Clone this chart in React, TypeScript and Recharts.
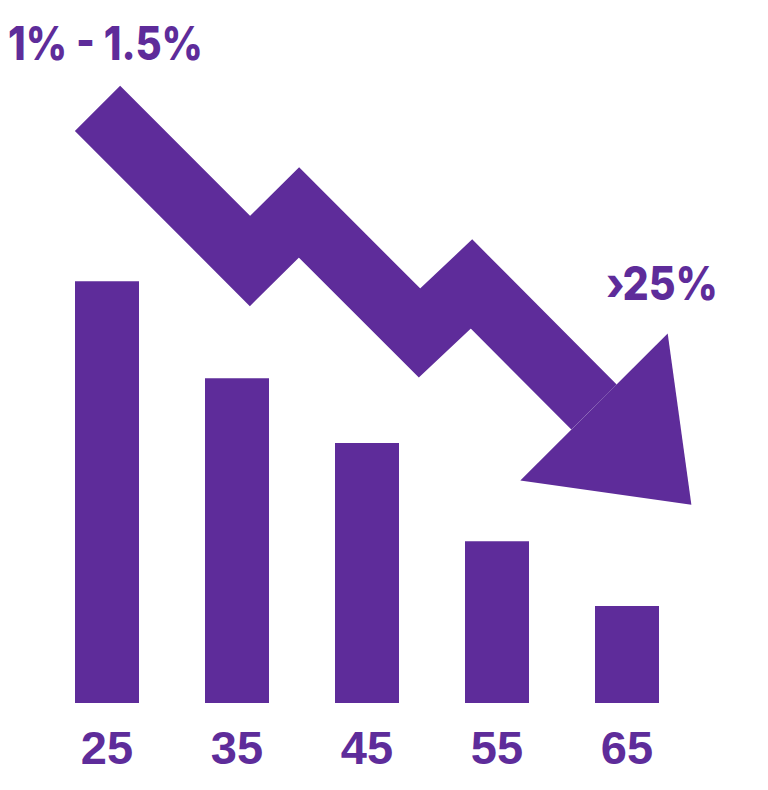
import React from "react";
import { ComposedChart, Bar, Line, XAxis, YAxis, Customized } from "recharts";

const ages = ["25", "35", "45", "55", "65"];
const barValues = [60, 46.2, 37, 23, 13.8];
const startLabel = "1% - 1.5%";
const endLabel = "\u203A25%";

// arrow path (arrow-axis units)
const arrowX = [55.5, 208, 257, 377.5, 429.5, 552];
const arrowY = [108.3, 261, 212.5, 333, 284, 407];

const PURPLE = "#5E2C9A";

const barData = ages.map((a, i) => ({ age: a, value: barValues[i] }));
const arrowData = arrowX.map((x, i) => ({ ax: x, ay: arrowY[i] }));

const AgeTick = (props: any) => {
  const { x, y, payload } = props;
  return (
    <text
      x={x}
      y={y + 31}
      textAnchor="middle"
      fill={PURPLE}
      fontFamily="'Liberation Sans', Arial, sans-serif"
      fontWeight={700}
      fontSize={47}
    >
      {payload.value}
    </text>
  );
};

const ArrowHead = (props: any) => {
  const { cx, cy, index } = props;
  const n = arrowX.length;
  if (index !== n - 1 || cx == null || cy == null) return <g key={`d${index}`} />;
  const dx = arrowX[n - 1] - arrowX[n - 2];
  const dy = arrowY[n - 1] - arrowY[n - 2];
  const len = Math.sqrt(dx * dx + dy * dy);
  const ux = dx / len;
  const uy = dy / len;
  const px = uy;
  const py = -ux;
  const half = 104;
  const headLen = 138;
  const pts = [
    [cx + px * half, cy + py * half],
    [cx + ux * headLen, cy + uy * headLen],
    [cx - px * half, cy - py * half],
  ]
    .map((p) => p.join(","))
    .join(" ");
  return <polygon key={`d${index}`} points={pts} fill={PURPLE} />;
};

const Texts = () => (
  <g fontFamily="Inter, 'Noto Sans', sans-serif" fontWeight={800} fill={PURPLE}>
    <text x={8} y={60} fontSize={46} textLength={195} lengthAdjust="spacingAndGlyphs">
      {startLabel}
    </text>
    <text x={606} y={300} fontSize={46} textLength={112} lengthAdjust="spacingAndGlyphs">
      {endLabel}
    </text>
  </g>
);

export default function App() {
  return (
    <div style={{ position: "absolute", left: 0, top: 0, width: 768, height: 790, background: "#fff" }}>
      <ComposedChart
        width={768}
        height={790}
        data={barData}
        margin={{ top: 0, right: 76, bottom: 27, left: 42 }}
      >
        <XAxis
          dataKey="age"
          xAxisId="bar"
          axisLine={false}
          tickLine={false}
          tickSize={0}
          tickMargin={0}
          height={60}
          tick={<AgeTick />}
          interval={0}
        />
        <XAxis xAxisId="arrow" dataKey="ax" type="number" domain={[0, 650]} hide />
        <YAxis yAxisId="bar" domain={[0, 100]} hide />
        <YAxis yAxisId="arrow" domain={[0, 703]} reversed hide />
        <Bar
          dataKey="value"
          xAxisId="bar"
          yAxisId="bar"
          fill={PURPLE}
          barSize={64}
          isAnimationActive={false}
        />
        <Line
          data={arrowData}
          dataKey="ay"
          xAxisId="arrow"
          yAxisId="arrow"
          type="linear"
          stroke={PURPLE}
          strokeWidth={64}
          strokeLinejoin="miter"
          strokeLinecap="butt"
          dot={<ArrowHead />}
          activeDot={false}
          isAnimationActive={false}
        />
        <Customized component={Texts} />
      </ComposedChart>
    </div>
  );
}
